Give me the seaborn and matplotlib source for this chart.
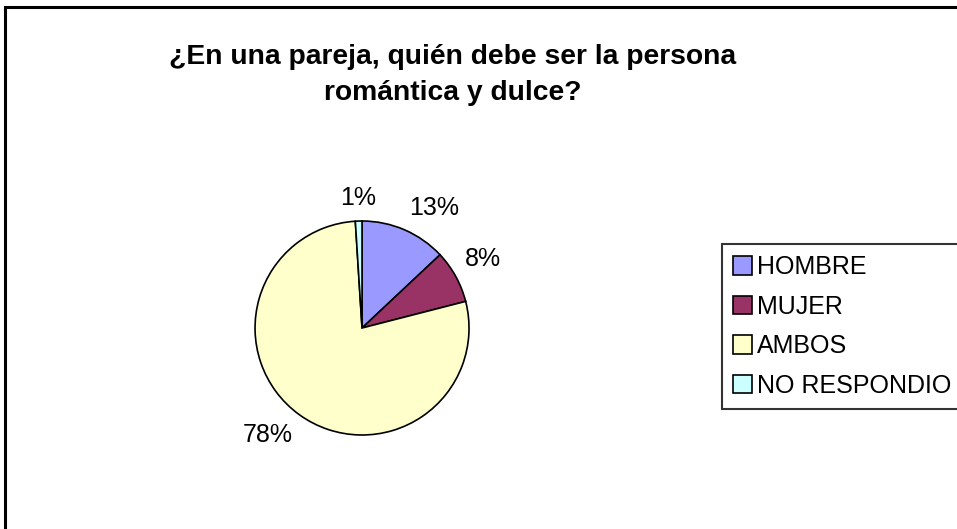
import numpy as np
import matplotlib
matplotlib.use('Agg')
import matplotlib.pyplot as plt
import seaborn as sns
from matplotlib.patches import Rectangle

# ── Data ───────────────────────────────────────────────────────────────
categories = ['HOMBRE', 'MUJER', 'AMBOS', 'NO RESPONDIO']
shares     = [13, 8, 78, 1]
pct_labels = ['13%', '8%', '78%', '1%']
title      = '¿En una pareja, quién debe ser la persona\nromántica y dulce?'

colors = sns.color_palette(['#9999FF', '#993366', '#FFFFCC', '#CCFFFF'])

sns.set_theme(style='white')
plt.rcParams['font.family'] = ['Liberation Sans', 'DejaVu Sans']
plt.rcParams['text.color'] = 'black'

fig = plt.figure(figsize=(9.57, 5.29), dpi=100)

# outer chart border (Excel style, clipped on right/bottom)
fig.patches.append(Rectangle((5 / 957, -0.1), 1.2, 1.1 - 7.5 / 529,
                             transform=fig.transFigure, fill=False,
                             edgecolor='black', linewidth=2.2))

ax = fig.add_axes([0.2665, 0.1777, 0.2236, 0.4045])
wedges, texts = ax.pie(shares, colors=colors, startangle=90,
                       counterclock=False, radius=1,
                       wedgeprops=dict(edgecolor='black', linewidth=1.2))
ax.set_xlim(-1, 1)
ax.set_ylim(-1, 1)
ax.set_aspect('equal')
ax.axis('off')

# percent labels just outside each wedge
for w, lab in zip(wedges, pct_labels):
    ang = np.deg2rad((w.theta1 + w.theta2) / 2)
    x, y = 1.1 * np.cos(ang), 1.1 * np.sin(ang)
    if abs(x) < 0.2:
        ha = 'center'
    else:
        ha = 'left' if x > 0 else 'right'
    va = 'bottom' if y > 0.2 else ('top' if y < -0.2 else 'center')
    ax.text(x, y, lab, ha=ha, va=va, fontsize=18, color='black')

fig.text(453 / 957, 1 - 75 / 529, title, ha='center', va='center',
         fontsize=20.3, fontweight='bold', linespacing=1.55, color='black')

leg = fig.legend(wedges, categories, loc='upper left',
                 bbox_to_anchor=(722 / 957, 1 - 244 / 529),
                 frameon=True, fancybox=False, fontsize=18,
                 handlelength=0.75, handleheight=0.75, handletextpad=0.2,
                 labelspacing=0.62, borderpad=0.45, borderaxespad=0)
leg.get_frame().set_edgecolor('black')
leg.get_frame().set_linewidth(1.5)
for t in leg.get_texts():
    t.set_color('black')
for h in leg.legend_handles:
    h.set_edgecolor('black')
    h.set_linewidth(1.2)

fig.savefig('out.png', dpi=100)
